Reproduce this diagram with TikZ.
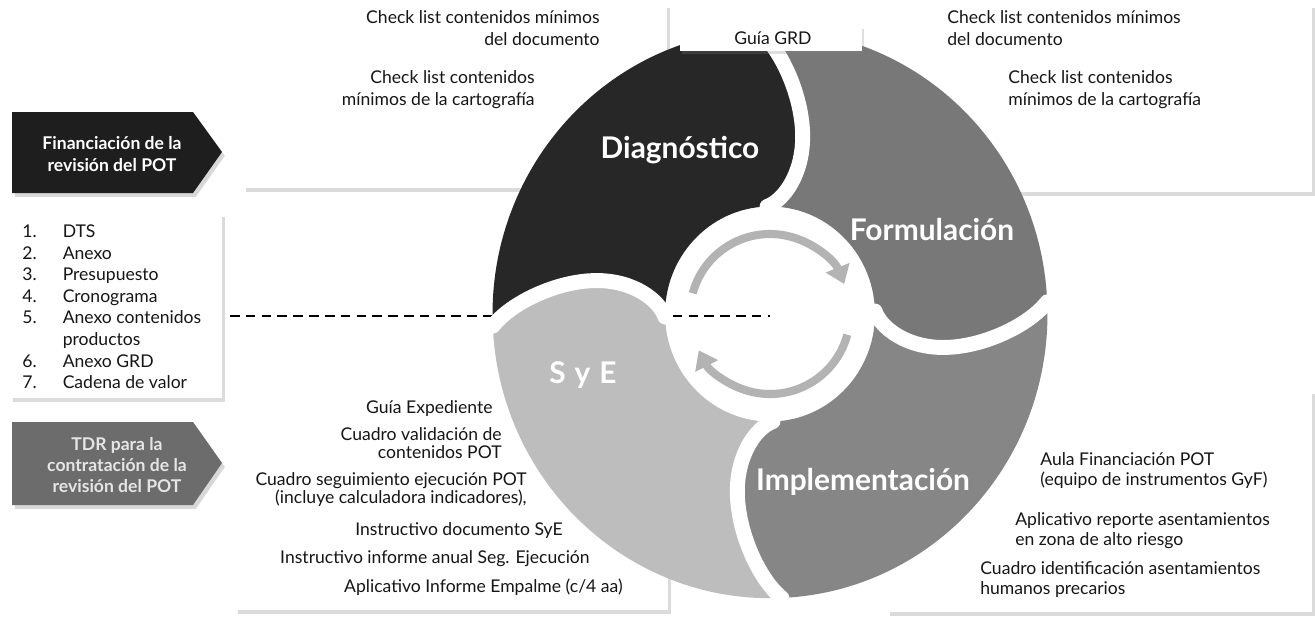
\documentclass[tikz,border=0pt]{standalone}
\usepackage{fontspec}
\setmainfont{Lato}
\usetikzlibrary{arrows.meta,shadows}
\definecolor{cDiag}{HTML}{272727}
\definecolor{cForm}{HTML}{787878}
\definecolor{cImpl}{HTML}{868686}
\definecolor{cSyE}{HTML}{BDBDBD}
\definecolor{cArrow}{HTML}{B3B3B3}
\definecolor{cFin}{HTML}{1E1E1E}
\definecolor{cTDR}{HTML}{6C6C6C}
\definecolor{cTxt}{HTML}{161616}
\begin{document}
\begin{tikzpicture}[x=0.02cm,y=-0.02cm,
  txt/.style={font=\fontsize{10}{11.5}\selectfont, inner sep=0pt, text=cTxt},
  txtw/.style={font=\fontsize{10}{12.8}\selectfont, inner sep=0pt, text=cTxt},
  txtn/.style={font=\fontsize{10}{10.6}\selectfont, inner sep=0pt, text=cTxt},
  boldw/.style={font=\fontsize{10}{12.2}\selectfont\bfseries, inner sep=0pt, text=white, align=center},
  lobelbl/.style={font=\fontsize{17}{20}\selectfont\bfseries, text=white, inner sep=0pt},
  wbox/.style={fill=white, drop shadow={opacity=0.28, shadow xshift=1.6pt, shadow yshift=-2.2pt}},
  sh/.style={drop shadow={opacity=0.3, shadow xshift=1.6pt, shadow yshift=-2.2pt}},
  gapline/.style={draw=white, line width=8.5pt, line cap=round},
  arrowarc/.style={draw=cArrow, line width=4.6pt, -{Triangle[length=10pt,width=14pt]}},
  dashline/.style={draw=black, line width=1.6pt, dash pattern=on 5.5pt off 3.5pt}]
\useasboundingbox (0,0) rectangle (1315,620);
\fill[white] (0,0) rectangle (1315,620);

% white boxes
\fill[wbox] (243,4) rectangle (667,188);
\fill[wbox] (887,4) rectangle (1312,192);
\fill[wbox] (235,388) rectangle (668,610);
\fill[wbox] (887,390) rectangle (1312,612);
\fill[wbox] (10,213) rectangle (222,398);

% arrow-shaped boxes
\fill[cFin, sh] (12,112) -- (193,112) -- (222,152) -- (193,193) -- (12,193) -- cycle;
\fill[cTDR, sh] (12,422) -- (193,422) -- (222,463) -- (193,505) -- (12,505) -- cycle;

% dashed line
\coordinate (d1) at (230,316);
\coordinate (d2) at (770,316);
\draw[dashline] (d1) -- (d2);

% lobes
\foreach \k/\col in {0/cDiag,1/cForm,2/cImpl,3/cSyE}{
  \begin{scope}[shift={(770,314)}, xscale=0.99, yscale=1.014, rotate=-90*\k, yscale=-1]
    \fill[\col] (-280,-12) arc[start angle=182.454, end angle=92.454, radius=280.257]
      .. controls (11,262) and (33,215) .. (33,175)
      .. controls (33,138) and (14,112) .. (-3,106)
      arc[start angle=91.621, end angle=181.621, radius=106.042]
      .. controls (-112,14) and (-138,33) .. (-175,33)
      .. controls (-215,33) and (-262,11) .. (-280,-12) -- cycle;
  \end{scope}
}
% white gaps between lobes
\foreach \k in {0,1,2,3}{
  \begin{scope}[shift={(770,314)}, xscale=0.99, yscale=1.014, rotate=-90*\k, yscale=-1]
    \draw[gapline] (-12,280) .. controls (11,262) and (33,215) .. (33,175)
      .. controls (33,138) and (14,112) .. (-3,106);
  \end{scope}
}

% central cycle arrows
\begin{scope}[shift={(770,314)}, yscale=-1]
  \draw[arrowarc] (165:80) arc[start angle=165, end angle=22, radius=80];
  \draw[arrowarc] (-15:80) arc[start angle=-15, end angle=-153, radius=80];
\end{scope}

% Guia GRD box
\fill[white, drop shadow={opacity=0.25, shadow xshift=1pt, shadow yshift=-1.5pt}] (680,26) rectangle (862,51);
\node[txt] (guia) at (773,38.5) {Guía GRD};

% lobe labels
\node[lobelbl] (ldiag) at (680,150) {Diagnóstico};
\node[lobelbl] (lform) at (932,230) {Formulación};
\node[lobelbl] (limpl) at (863,482) {Implementación};
\node[lobelbl] (lsye) at (583,375) {S\hspace{0.3em}y\hspace{0.3em}E};

% top-left box texts
\node[txtw, anchor=north east, align=right] (tl1) at (600,10) {Check list contenidos mínimos\\del documento};
\node[txtw, anchor=north east, align=right] (tl2) at (535,70) {Check list contenidos\\mínimos de la cartografía};

% top-right box texts
\node[txtw, anchor=north west, align=left] (tr1) at (947,10) {Check list contenidos mínimos\\del documento};
\node[txtw, anchor=north west, align=left] (tr2) at (1008,70) {Check list contenidos\\mínimos de la cartografía};

% bottom-left box texts
\node[txt, anchor=north east] (bl1) at (493,400) {Guía Expediente};
\node[txtn, anchor=north east, align=right] (bl2) at (502,427) {Cuadro validación de\\contenidos POT};
\node[txtn, anchor=north east, align=right] (bl3) at (527,472) {Cuadro seguimiento ejecución POT\\(incluye calculadora indicadores),};
\node[txt, anchor=north east] (bl4) at (563,522) {Instructivo documento SyE};
\node[txt, anchor=north east] (bl5) at (590,550) {Instructivo informe anual Seg. Ejecución};
\node[txt, anchor=north east] (bl6) at (623,579) {Aplicativo Informe Empalme (c/4 aa)};

% bottom-right box texts
\node[txt, anchor=north west, align=left] (br1) at (1040,452) {Aula Financiación POT\\(equipo de instrumentos GyF)};
\node[txt, anchor=north west, align=left] (br2) at (1015,512) {Aplicativo reporte asentamientos\\en zona de alto riesgo};
\node[txt, anchor=north west, align=left] (br3) at (980,561) {Cuadro identificación asentamientos\\humanos precarios};

% left column
\node[boldw] (fin) at (112,154) {Financiación de la\\revisión del POT};
\node[boldw, text=white!90!black] (tdr) at (117,465) {TDR para la\\contratación de la\\revisión del POT};
\node[txt, anchor=north west, font=\fontsize{10}{12.3}\selectfont] (lst) at (22,222) {%
\begin{tabular}{@{}p{23pt}@{}l@{}}
1. & DTS\\
2. & Anexo\\
3. & Presupuesto\\
4. & Cronograma\\
5. & Anexo contenidos\\
   & productos\\
6. & Anexo GRD\\
7. & Cadena de valor
\end{tabular}};
\end{tikzpicture}
\end{document}
